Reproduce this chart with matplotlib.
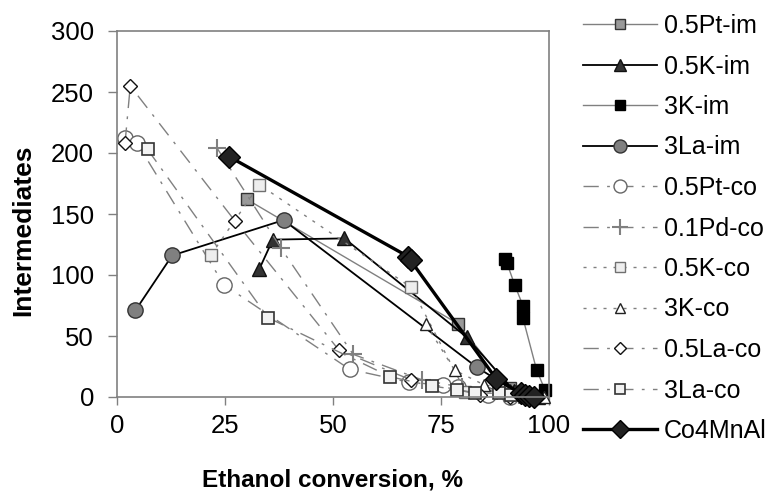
import matplotlib
matplotlib.use("Agg")
import matplotlib.pyplot as plt

# ---- data ----
pt_im_x = [30.1, 79.0, 91.0, 95.0, 97.0]
pt_im_y = [162, 60, 7, 2, 1]

k_im_x = [33.0, 36.1, 52.7, 81.0, 92.0, 97.5]
k_im_y = [105, 129, 130, 49, 5, 0]

k3_im_x = [89.9, 90.3, 92.1, 94.0, 94.0, 97.2, 99.1]
k3_im_y = [113, 110, 92, 75, 65, 22, 6]

la3_im_x = [4.3, 12.8, 38.6, 83.3, 93.0, 96.0]
la3_im_y = [71, 116, 145, 24.5, 3, 0]

pt_co_x = [1.9, 4.6, 24.8, 53.9, 67.7, 75.6, 79.0, 86.0, 91.0]
pt_co_y = [212.5, 208.5, 92, 22.7, 12, 9.8, 8.5, 2, 0]

pd_co_x = [23.2, 38.0, 54.7, 70.7, 80.0, 88.0, 93.0]
pd_co_y = [204, 122, 35, 14, 8, 5, 2]

k_co_x = [21.7, 33.0, 68.1, 80.7, 91.0, 95.0]
k_co_y = [116, 174, 90, 4.5, 2, 1]

k3_co_x = [71.5, 78.2, 85.0, 91.0, 96.0, 99.0]
k3_co_y = [60, 22, 10, 6, 2, 0]

la_co_x = [1.9, 3.1, 27.3, 51.4, 68.1, 84.0, 91.0]
la_co_y = [208.5, 255, 144.5, 38.5, 14, 2, 0]

la3_co_x = [7.1, 35.0, 63.3, 73.0, 78.7, 83.0, 88.5, 91.2, 95.0]
la3_co_y = [203, 65, 16.6, 9, 6, 3.5, 3, 2, 1]

mn_x = [26.0, 67.5, 68.0, 87.8, 93.5, 94.5, 95.5, 96.5]
mn_y = [197, 115, 112, 15, 3, 2, 1, 0]

x_ticks = [0, 25, 50, 75, 100]
y_ticks = [0, 50, 100, 150, 200, 250, 300]

# ---- styling ----
FONT = ['Liberation Sans', 'DejaVu Sans']
GRAY = '#808080'
DASHDOT = (0, (11, 6, 2, 6))
DOTTED = (0, (2.2, 5))

fig = plt.figure(figsize=(7.74, 5.0), dpi=100)
ax = fig.add_axes([0.151, 0.206, 0.558, 0.732])

series = [
    (pt_im_x, pt_im_y, '0.5Pt-im', dict(color=GRAY, lw=1.0, ls='-', marker='s', ms=8.5,
                                         mfc='#999999', mec='#333333', mew=1.0)),
    (k_im_x, k_im_y, '0.5K-im', dict(color='black', lw=1.3, ls='-', marker='^', ms=10,
                                      mfc='#333333', mec='#111111', mew=1.0)),
    (k3_im_x, k3_im_y, '3K-im', dict(color=GRAY, lw=1.0, ls='-', marker='s', ms=9,
                                      mfc='black', mec='black', mew=1.0)),
    (la3_im_x, la3_im_y, '3La-im', dict(color='black', lw=1.3, ls='-', marker='o', ms=11,
                                         mfc='#808080', mec='#333333', mew=1.0)),
    (pt_co_x, pt_co_y, '0.5Pt-co', dict(color=GRAY, lw=1.0, ls=DASHDOT, marker='o', ms=11,
                                         mfc='white', mec='#666666', mew=1.0)),
    (pd_co_x, pd_co_y, '0.1Pd-co', dict(color=GRAY, lw=1.0, ls=DASHDOT, marker='+', ms=13,
                                         mec='#808080', mew=1.5)),
    (k_co_x, k_co_y, '0.5K-co', dict(color=GRAY, lw=1.0, ls=DOTTED, marker='s', ms=8.5,
                                      mfc='#eeeeee', mec='#707070', mew=1.0)),
    (k3_co_x, k3_co_y, '3K-co', dict(color=GRAY, lw=1.0, ls=DOTTED, marker='^', ms=9,
                                      mfc='white', mec='#222222', mew=1.0)),
    (la_co_x, la_co_y, '0.5La-co', dict(color=GRAY, lw=1.0, ls=DASHDOT, marker='D', ms=7,
                                         mfc='white', mec='#111111', mew=1.0)),
    (la3_co_x, la3_co_y, '3La-co', dict(color=GRAY, lw=1.0, ls=DASHDOT, marker='s', ms=9,
                                         mfc='#f2f2f2', mec='#333333', mew=1.2)),
    (mn_x, mn_y, 'Co4MnAl', dict(color='black', lw=2.4, ls='-', marker='D', ms=11,
                                  mfc='#222222', mec='black', mew=1.0)),
]

handles = []
for xs, ys, name, style in series:
    line, = ax.plot(xs, ys, label=name, clip_on=False, **style)
    handles.append(line)

ax.set_xlim(0, 100)
ax.set_ylim(0, 300)
ax.set_xticks(x_ticks)
ax.set_yticks(y_ticks)
ax.set_xticklabels([str(v) for v in x_ticks], family=FONT, fontsize=18.5)
ax.set_yticklabels([str(v) for v in y_ticks], family=FONT, fontsize=18.5)
ax.tick_params(axis='y', direction='out', length=6.5, width=1, color=GRAY, pad=10)
ax.tick_params(axis='x', direction='out', length=6, width=1, color=GRAY, pad=6)
for spine in ax.spines.values():
    spine.set_color(GRAY)
    spine.set_linewidth(1.2)

ax.set_xlabel('Ethanol conversion, %', family=FONT, fontweight='bold',
              fontsize=17.5, labelpad=22)
ax.set_ylabel('Intermediates', family=FONT, fontweight='bold', fontsize=19)
ax.yaxis.set_label_coords(-0.19, 0.455)

fig.legend(handles=handles, loc='upper left', bbox_to_anchor=(0.753, 0.972),
           frameon=False, prop={'family': FONT, 'size': 18},
           handlelength=2.96, handletextpad=0.28, labelspacing=0.66,
           numpoints=1, borderaxespad=0, borderpad=0, markerscale=0.85)

fig.savefig('out.png', dpi=100)
